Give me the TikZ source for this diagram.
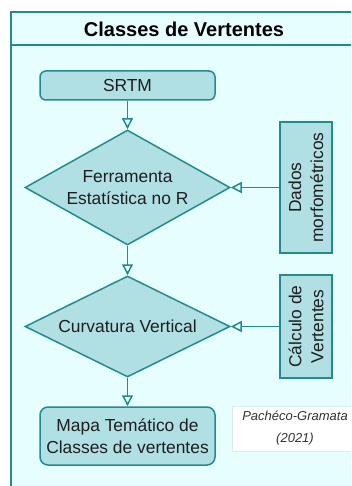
\documentclass[tikz,border=0pt]{standalone}
\usepackage{fontspec}
\setmainfont{Liberation Sans}
\usetikzlibrary{shapes.geometric,arrows.meta}

\definecolor{tealline}{RGB}{35,138,141}
\definecolor{nodefill}{RGB}{176,224,228}
\definecolor{panelfill}{RGB}{230,255,254}
\definecolor{sourceline}{RGB}{220,236,236}
\definecolor{bodytext}{RGB}{30,30,30}

\newcommand\bodyfont{\fontsize{17.4}{22}\selectfont}
\newcommand\titlefont{\fontsize{20}{24}\selectfont\bfseries}
\newcommand\sourcefont{\fontsize{13}{22}\selectfont\itshape}

\tikzset{every picture/.style={line width=1.5pt},
  procbox/.style={draw=tealline, fill=nodefill, rounded corners=6pt, minimum width=175pt, inner sep=0pt, align=center, font=\bodyfont, text=bodytext},
  decision/.style={diamond, draw=tealline, fill=nodefill, inner sep=0pt, align=center, font=\bodyfont, text=bodytext, minimum width=205pt},
  sidebox/.style={draw=tealline, fill=nodefill, rotate=90, minimum height=52pt, inner sep=0pt, align=center, font=\bodyfont, text=bodytext},
  sourcebox/.style={draw=sourceline, fill=white, line width=0.8pt, minimum width=126pt, minimum height=45pt, inner sep=0pt, align=center, font=\sourcefont, text=black!80},
  flowarrow/.style={draw=tealline, -{Triangle[open,length=11pt,width=11pt]}}
}

\begin{document}
\begin{tikzpicture}[x=1pt,y=1pt,yscale=-1,xscale=1]
\useasboundingbox (0,0) rectangle (351,486);
\clip (0,0) rectangle (351,486);

%Shape: Panel
\draw [draw=tealline, fill=panelfill, line width=1.6pt] (11,12) rectangle (359,500);
\draw [draw=tealline, line width=1.6pt] (11,45) -- (359,45);

% Text Node
\node [font=\titlefont] (titulo) at (184,29) {Classes de Vertentes};

%Shape: Process
\node [procbox, minimum height=29pt] (srtm) at (127.5,85.5) {SRTM};
%Shape: Decision
\node [decision, aspect=1.78, minimum height=115pt] (ferramenta) at (127.5,187.5) {Ferramenta\\Estatística no R};
%Shape: Side box
\node [sidebox, minimum width=131pt] (dados) at (306,187.5) {Dados\\morfométricos};
%Shape: Decision
\node [decision, aspect=2.03, minimum height=101pt] (curvatura) at (127.5,326.5) {Curvatura Vertical};
%Shape: Side box
\node [sidebox, minimum width=103pt] (calculo) at (306,326.5) {Cálculo de\\Vertentes};
%Shape: Process
\node [procbox, rounded corners=8pt, minimum height=58pt] (mapa) at (127.5,436) {Mapa Temático de\\Classes de vertentes};

% Text Node
\node [sourcebox] (fonte) at (295,428.5) {Pachéco-Gramata\\(2021)};

%Straight Lines
\draw [flowarrow] (srtm) -- (ferramenta);
\draw [flowarrow] (dados) -- (ferramenta);
\draw [flowarrow] (ferramenta) -- (curvatura);
\draw [flowarrow] (calculo) -- (curvatura);
\draw [flowarrow] (curvatura) -- (mapa);

\end{tikzpicture}
\end{document}
